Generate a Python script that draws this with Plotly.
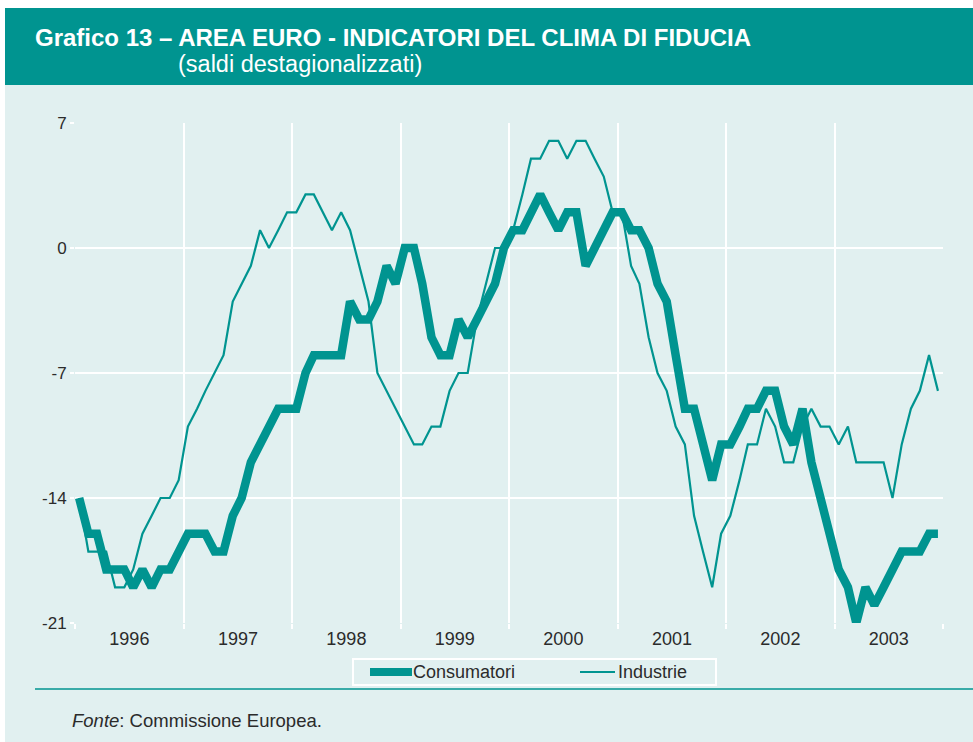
import pandas as pd
import plotly.graph_objects as go

# Monthly observations, Jan 1996 - Dec 2003 (saldi destagionalizzati)
mesi = pd.date_range("1996-01-01", periods=96, freq="MS") + pd.Timedelta(days=14)

consumatori_1996 = [-14, -16, -16, -18, -18, -18, -19, -18, -19, -18, -18, -17]
consumatori_1997 = [-16, -16, -16, -17, -17, -15, -14, -12, -11, -10, -9, -9]
consumatori_1998 = [-9, -7, -6, -6, -6, -6, -3, -4, -4, -3, -1, -2]
consumatori_1999 = [0, 0, -2, -5, -6, -6, -4, -5, -4, -3, -2, 0]
consumatori_2000 = [1, 1, 2, 3, 2, 1, 2, 2, -1, 0, 1, 2]
consumatori_2001 = [2, 1, 1, 0, -2, -3, -6, -9, -9, -11, -13, -11]
consumatori_2002 = [-11, -10, -9, -9, -8, -8, -10, -11, -9, -12, -14, -16]
consumatori_2003 = [-18, -19, -21, -19, -20, -19, -18, -17, -17, -17, -16, -16]

industrie_1996 = [-14, -17, -17, -17, -19, -19, -18, -16, -15, -14, -14, -13]
industrie_1997 = [-10, -9, -8, -7, -6, -3, -2, -1, 1, 0, 1, 2]
industrie_1998 = [2, 3, 3, 2, 1, 2, 1, -1, -3, -7, -8, -9]
industrie_1999 = [-10, -11, -11, -10, -10, -8, -7, -7, -4, -2, 0, 0]
industrie_2000 = [1, 3, 5, 5, 6, 6, 5, 6, 6, 5, 4, 2]
industrie_2001 = [2, -1, -2, -5, -7, -8, -10, -11, -15, -17, -19, -16]
industrie_2002 = [-15, -13, -11, -11, -9, -10, -12, -12, -10, -9, -10, -10]
industrie_2003 = [-11, -10, -12, -12, -12, -12, -14, -11, -9, -8, -6, -8]

consumatori = (consumatori_1996 + consumatori_1997 + consumatori_1998 + consumatori_1999
               + consumatori_2000 + consumatori_2001 + consumatori_2002 + consumatori_2003)
industrie = (industrie_1996 + industrie_1997 + industrie_1998 + industrie_1999
             + industrie_2000 + industrie_2001 + industrie_2002 + industrie_2003)

y_ticks = [-21, -14, -7, 0, 7]
y_ticktext = ["-21", "-14", "-7", "0", "7"]

TEAL = "#009490"
LIGHT = "#E1F0F0"
FONT = "Liberation Sans, Arial, Helvetica, sans-serif"
TXT = "#2b2b2b"

W, H = 973, 742
L, R, T, B = 75, 30, 123, 119
PW, PH = W - L - R, H - T - B


def px(x):
    return (x - L) / PW


def py(y):
    return (H - B - y) / PH


fig = go.Figure()
fig.add_trace(go.Scatter(
    x=mesi, y=industrie, name="Industrie", mode="lines",
    line=dict(color=TEAL, width=2.2), cliponaxis=False, hoverinfo="skip",
))
fig.add_trace(go.Scatter(
    x=mesi, y=consumatori, name="Consumatori", mode="lines",
    line=dict(color=TEAL, width=8.5), cliponaxis=False, hoverinfo="skip",
))

LEG_Y = 672
shapes = [
    # white left strip
    dict(type="rect", xref="paper", yref="paper", x0=px(0), x1=px(5), y0=py(H), y1=py(0),
         fillcolor="white", line=dict(width=0), layer="below"),
    # white top strip
    dict(type="rect", xref="paper", yref="paper", x0=px(0), x1=px(W), y0=py(8), y1=py(0),
         fillcolor="white", line=dict(width=0), layer="below"),
    # teal title band
    dict(type="rect", xref="paper", yref="paper", x0=px(5), x1=px(W), y0=py(85), y1=py(8),
         fillcolor=TEAL, line=dict(width=0), layer="below"),
    # separator rule
    dict(type="line", xref="paper", yref="paper", x0=px(35), x1=px(W), y0=py(689), y1=py(689),
         line=dict(color=TEAL, width=1.5)),
    # legend box
    dict(type="rect", xref="paper", yref="paper", x0=px(353), x1=px(716), y0=py(685), y1=py(659),
         line=dict(color="white", width=2), fillcolor="rgba(0,0,0,0)"),
    # legend samples
    dict(type="line", xref="paper", yref="paper", x0=px(370), x1=px(412), y0=py(LEG_Y), y1=py(LEG_Y),
         line=dict(color=TEAL, width=8)),
    dict(type="line", xref="paper", yref="paper", x0=px(580), x1=px(615), y0=py(LEG_Y), y1=py(LEG_Y),
         line=dict(color=TEAL, width=2.2)),
]

annotations = [
    dict(text="<b>Grafico 13 – AREA EURO - INDICATORI DEL CLIMA DI FIDUCIA</b>",
         xref="paper", yref="paper", x=px(33), y=py(37), xanchor="left", yanchor="middle",
         showarrow=False, font=dict(family=FONT, size=24, color="white")),
    dict(text="(saldi destagionalizzati)",
         xref="paper", yref="paper", x=px(176), y=py(64), xanchor="left", yanchor="middle",
         showarrow=False, font=dict(family=FONT, size=23.5, color="white")),
    dict(text="<i>Fonte</i>: Commissione Europea.",
         xref="paper", yref="paper", x=px(70), y=py(720), xanchor="left", yanchor="middle",
         showarrow=False, font=dict(family=FONT, size=18.5, color=TXT)),
    dict(text="Consumatori",
         xref="paper", yref="paper", x=px(411), y=py(LEG_Y), xanchor="left", yanchor="middle",
         showarrow=False, font=dict(family=FONT, size=18, color=TXT)),
    dict(text="Industrie",
         xref="paper", yref="paper", x=px(616), y=py(LEG_Y), xanchor="left", yanchor="middle",
         showarrow=False, font=dict(family=FONT, size=18, color=TXT)),
]

fig.update_layout(
    width=W, height=H, autosize=False,
    margin=dict(l=L, r=R, t=T, b=B),
    paper_bgcolor=LIGHT, plot_bgcolor=LIGHT,
    font=dict(family=FONT, size=17, color=TXT),
    showlegend=False,
    hovermode=False,
    shapes=shapes,
    annotations=annotations,
    xaxis=dict(
        type="date", range=["1996-01-01", "2004-01-01"],
        tick0="1996-01-01", dtick="M12", tickformat="%Y", ticklabelmode="period",
        showgrid=True, gridcolor="white", gridwidth=1.5,
        ticks="outside", ticklen=5, tickcolor="white", tickwidth=1.5,
        ticklabelstandoff=-6,
        showline=False, zeroline=False,
        tickfont=dict(family=FONT, size=18, color=TXT),
    ),
    yaxis=dict(
        range=[-21, 7], tickmode="array", tickvals=y_ticks, ticktext=y_ticktext,
        showgrid=True, gridcolor="white", gridwidth=1.5,
        ticks="outside", ticklen=4, tickcolor="white", tickwidth=1.5,
        showline=False, zeroline=False,
        tickfont=dict(family=FONT, size=17, color=TXT),
    ),
)

fig.write_html("out.html", config={"displayModeBar": False},
               post_script="document.body.style.margin='0';")
